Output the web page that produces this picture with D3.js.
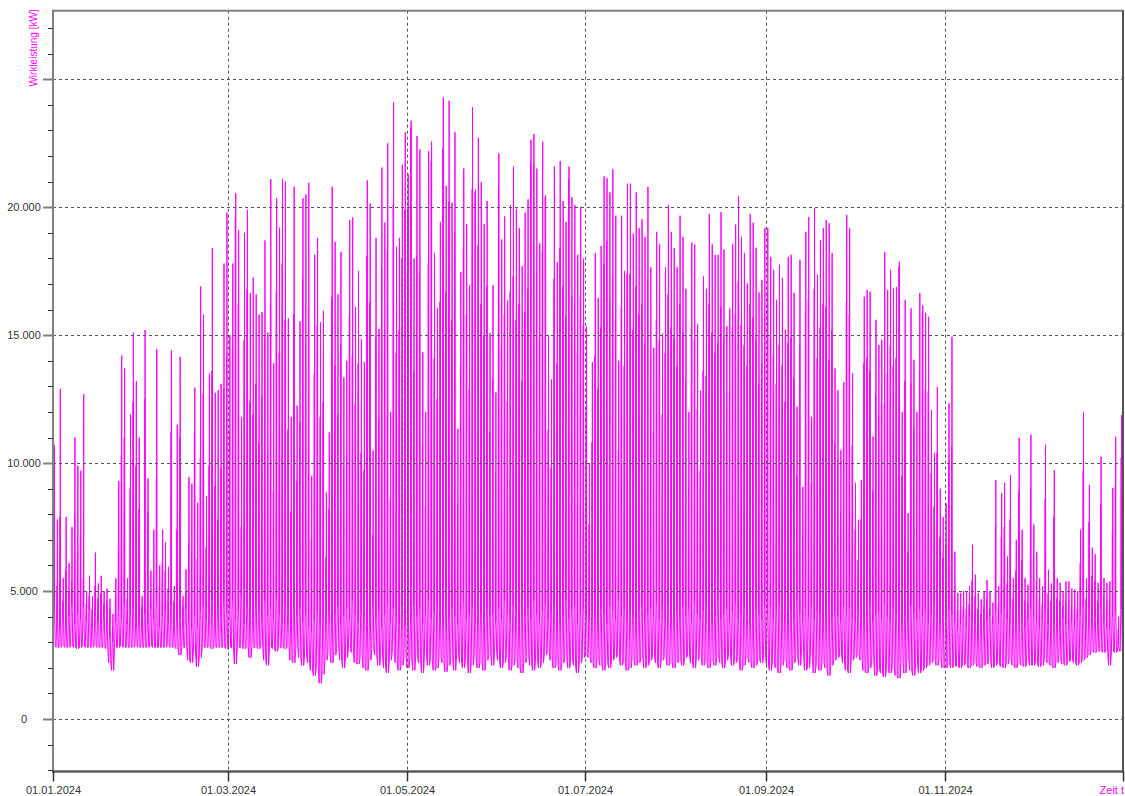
<!DOCTYPE html>
<html><head><meta charset="utf-8">
<script src="https://cdn.jsdelivr.net/npm/d3@7/dist/d3.min.js"></script>
<style>body{margin:0;background:#fff}svg{display:block}</style>
</head><body><svg id="c" width="1125" height="796"></svg>
<script>
// ---- data (kW), one value per day of 2024, read/ ----
const startDate = "2024-01-01";
const endDate = "2025-01-01";
// daily maximum
const peaks = [
10700,7800,12900,5500,7900,6100,7500,11000,9900,9700,12700,5000,5600,4800,6500,5300,5600,5000,5100,4700,4100,5500,9300,14200,13700,5500,11900,15100,13200,11000,4800,
15200,9400,5800,7400,14450,6000,7400,6900,5950,14400,5200,11500,14150,4800,5850,9450,9200,12950,8450,16900,15800,8700,13500,18400,12750,12850,13100,17800,19800,
15000,17800,20550,19100,11800,19000,19900,16650,17250,16600,15800,15900,18700,15100,21100,13900,20350,19200,21100,21000,15650,11800,20800,12250,15550,20350,20500,20950,9500,18150,18800,
15500,15950,8850,11200,20800,18650,16600,18250,13350,14000,19500,19600,16100,17500,14850,13950,21050,20150,10500,18800,15250,21550,19400,22500,12000,24100,18450,18800,21660,22930,
21290,23380,18000,22780,22260,14330,12000,22190,22560,18220,16050,19420,24280,20840,24160,20170,22930,11340,17470,21510,19340,16950,23910,20690,22710,20990,19340,20240,15080,16950,12760,
22110,18740,19640,16350,20090,21590,19940,19190,17700,19790,20310,22640,22860,21510,18590,22560,20460,15000,13270,21590,17850,21810,20240,19420,21590,20390,20090,18140,20020,17990,
15350,10000,13950,18210,16460,18490,21210,21140,20580,21480,19670,14000,19670,17510,20920,20920,18970,20580,19180,19530,18840,20790,17650,14510,19040,18550,15060,17650,20090,19040,18410,
17650,19670,18840,16810,12000,18620,18550,15420,12830,17300,16810,19740,18550,18140,18140,19810,18350,15350,16040,18550,19320,20440,18840,18210,17020,19740,19390,18420,16670,17160,19180,
19190,18060,17550,16380,17750,17240,15210,18060,18140,16650,12200,17950,9070,19040,19620,11810,19970,17360,18720,19190,19500,19370,18210,13700,12850,10500,13160,19700,19190,13520,
9230,7790,9340,16500,16770,16700,11040,15600,14620,14820,18250,16770,17550,16850,16880,17870,12000,16380,8050,16050,14040,12000,16650,16170,15870,15720,12080,10390,12970,9000,7900,
8430,12340,14940,6540,4930,4930,5000,5000,5200,6810,5640,4930,4680,5000,5440,5000,4550,9340,5190,8830,9230,6350,9530,5500,7000,10990,7400,5500,5250,11110,
7600,6540,5500,5190,10720,5830,5300,9730,5500,5320,5000,5380,5380,5100,5060,5000,7400,12000,5500,9150,6700,6440,5320,10250,5510,5320,5380,9030,11030,4000,11870
];
// secondary spike of the day
const seconds = [
9800,5200,7900,4600,5800,5000,5400,8000,6500,7200,5500,4500,4800,4300,5200,4700,4900,4500,4600,4300,3600,4800,6800,10300,11000,4700,9000,12400,9900,8200,4400,
12500,8100,4900,5600,9400,5200,6100,5800,5100,11200,4600,7400,11000,4400,5000,6900,6500,11200,6300,10200,12700,6700,9900,13600,9100,7800,9800,12900,14200,
11200,14500,19600,16200,7500,14800,16800,12400,11900,13100,10800,12600,14900,10500,16200,8900,16700,14300,17800,15600,11300,8100,15800,9300,11600,17200,14700,16100,7000,13500,15400,
11800,12400,6300,8200,16500,13800,11900,14600,9800,10300,15700,14200,12300,13900,10400,9700,18100,16300,7200,14900,11700,17600,15100,18300,8600,20100,14300,15200,18000,19900,
19900,23100,13600,18100,17400,10700,8300,17800,21800,14100,12500,16300,22300,16700,20200,15600,19000,8400,13900,18400,15800,12900,20700,20600,18500,16200,15000,16900,11200,13300,9600,
20800,14600,15800,12400,16700,17300,15600,16200,13200,15900,16800,21700,21700,17400,14800,18300,20400,11300,9800,17200,13900,18400,16900,15700,21100,16500,16200,14300,16500,15400,
12100,7600,10800,14200,12900,15300,17800,18700,16400,17300,15600,10500,16100,13800,17400,17400,15200,16900,15800,16200,14700,17200,14100,11200,15600,14800,11900,14300,16600,15300,14900,
13800,16200,15100,13200,9100,15300,14800,12100,9700,13600,13400,16200,15100,14300,14700,16100,14900,12200,12800,15300,15800,17100,15400,14600,13800,16200,15700,14800,13100,13900,15800,
16700,14900,14200,13100,14600,13800,12400,14700,14900,13300,9500,14600,7200,15900,16400,9200,16800,14100,15300,16200,16100,14040,15200,10800,10100,8100,10600,16300,15800,10700,
7400,6200,7800,13900,14100,13600,8900,12700,11900,12300,12340,13500,14600,13800,14100,17670,9500,13200,6500,13100,11400,9300,13600,15910,12900,12800,9600,8300,10400,7100,6300,
6800,10100,10650,5200,4200,4300,4400,4300,4500,5400,4800,4300,4100,4400,4700,4300,4000,7600,4500,7100,7500,5300,7800,4700,5800,8900,6200,4600,4500,9000,
6300,5400,4700,4500,8600,4900,4600,7900,4700,4600,4400,4600,4700,4400,4400,4300,6100,9700,4700,7700,5600,5400,4600,8400,4800,4600,4700,7300,9100,3500,10210
];
// typical level outside the spikes
const mids = [
4200,3800,3900,4300,3600,4000,4500,3700,4100,3900,4400,3800,4300,3600,4000,4200,3700,4100,3500,3200,3000,3800,4200,3900,4500,3700,4100,4300,3800,4000,3600,
4100,3700,4300,3900,4500,3600,4000,4200,3800,4400,3700,4100,3900,3600,4300,3800,3500,4000,3600,4200,4400,3900,4100,4600,3800,4300,4000,4500,4200,
4300,4600,3900,4200,4800,3700,4400,4100,3900,4500,4200,3800,4600,4000,4300,3900,4700,4100,3800,4400,4200,3700,4500,4000,4300,3800,4100,3600,3400,3900,4200,
3600,3900,4200,4500,3800,4100,4400,3700,4000,4300,3900,4600,4100,3800,4200,4500,3700,4000,4400,3900,4200,3600,4100,4500,3800,4300,4000,3700,4400,4100,
4200,3800,4500,4000,4300,3700,4100,4600,3900,4200,4400,3800,4100,4500,3900,4300,4000,3700,4200,4600,3900,4100,4400,3800,4200,4500,3900,4300,4000,4100,3800,
4300,3900,4600,4100,3800,4400,4200,3700,4500,4000,4300,3900,4600,4100,3800,4200,4500,3900,4100,4400,3800,4300,4000,4600,3900,4200,4400,3700,4100,4300,
4000,3800,4200,4500,3900,4300,4100,3700,4400,4200,3900,4600,4000,4300,3800,4100,4500,3900,4200,4400,3800,4100,4300,4000,4500,3900,4200,3800,4400,4100,4300,
4200,3900,4400,4000,4300,3800,4500,4100,3900,4200,4400,3800,4300,4000,4600,3900,4100,4300,3800,4200,4500,3900,4100,4400,4000,4200,3800,4300,4100,3900,4400,
4100,4400,3900,4200,4500,3800,4300,4000,4200,3900,4600,4100,3800,4300,4000,4400,3900,4200,4100,3800,4300,4500,3900,4200,4000,3800,4400,4100,4300,3900,
3800,4200,3900,4300,4000,4400,3800,4100,4200,3900,4500,4000,3800,4300,4100,3900,4200,4000,3800,4400,4100,3900,4300,4000,4200,3800,4100,4400,3900,4200,4000,
3900,4300,4100,3800,3500,3700,3900,3600,4000,3800,3700,3500,3900,3600,3800,4000,3700,4200,3800,4100,4300,3900,4400,3700,4000,4200,3800,3600,3900,4300,
4000,3800,3600,3900,4200,3700,3500,4100,3800,3600,3900,3700,3500,3800,3600,3900,4100,4400,3800,4200,4000,3900,3700,4300,3800,3600,3500,4000,4200,2900,4300
];
// daily minimum
const lows = [
2850,2800,2800,2850,2800,2800,2850,2800,2750,2800,2850,2800,2800,2800,2850,2800,2800,2800,2750,2200,1900,2800,2800,2850,2800,2800,2800,2800,2850,2800,2800,
2800,2800,2850,2800,2800,2800,2800,2800,2850,2800,2800,2750,2500,2800,2800,2300,2200,2600,2050,2400,2800,2800,2800,2750,2800,2800,2800,2800,2750,
2800,2780,2150,2800,2780,2750,2800,2400,2780,2800,2750,2800,2300,2100,2800,2750,2650,2780,2800,2750,2800,2300,2200,2750,2400,2100,2500,2200,1900,1700,2000,
1400,1750,2300,2600,2200,2500,2750,2300,2000,2400,2750,2600,2200,2150,2400,2000,1900,2300,2700,2500,2100,2400,2000,1800,2300,2600,2200,1900,2100,2400,
2000,2300,1900,2400,2200,1800,2500,2100,2300,1900,2000,2400,2200,1850,2100,2300,1900,2500,2200,2000,2300,1800,2100,2400,2000,2200,1900,2300,2500,2100,2600,
2300,2000,2200,2400,1900,2100,2300,2000,1800,2200,2400,2100,1900,2300,2000,2200,2500,2600,2300,2000,2100,1900,2200,2400,2000,2300,2100,1800,2200,2400,
2500,2400,2200,2000,2300,2100,1900,2200,2000,2300,2400,2500,2100,2200,1900,2000,2300,2100,2200,2400,2000,2100,2300,2500,2200,2000,2300,2400,2100,2200,2000,
2200,2300,2100,2400,2500,2200,2000,2300,2400,2100,2200,2000,2300,2100,2400,2200,2000,2300,2500,2100,2200,2300,1900,2100,2400,2200,2000,2100,2300,2200,2400,
2100,1900,2200,2000,1800,2100,2300,2000,1900,2200,2400,2100,2600,1900,2000,2400,1800,2100,1900,2200,2000,1700,2100,2300,2400,2500,2200,1900,1800,2300,
2400,2500,2300,1900,1800,2000,2300,1700,1900,1800,1650,1900,1800,2000,1700,1600,2200,1800,2300,1900,1700,2100,1800,1900,2000,2100,2200,2300,2100,2300,2000,
2000,2100,2000,2100,2050,2000,2100,2150,2000,2100,2200,2050,2000,2100,2150,2300,2000,2100,2200,2050,2000,2150,2300,2100,2000,2200,2100,2050,2300,2100,
2100,2200,2050,2100,2300,2200,2100,2000,2200,2300,2150,2100,2250,2300,2200,2100,2200,2300,2400,2500,2650,2600,2650,2650,2600,2650,2100,2650,2600,2650,2650
];
const yMajorTicks = [0, 5000, 10000, 15000, 20000, 25000];
const yTickLabels = {0: "0", 5000: "5.000", 10000: "10.000", 15000: "15.000", 20000: "20.000"};
const xTickDates = ["2024-01-01","2024-03-01","2024-05-01","2024-07-01","2024-09-01","2024-11-01","2025-01-01"];
const yAxisTitle = "Wirkleistung [kW]";
const xAxisTitle = "Zeit t";

// ---- layout ----
const L = 53, R = 1123, T = 10.7, B = 771.5;
const svg = d3.select("#c");
const parse = d3.utcParse("%Y-%m-%d");
const x = d3.scaleUtc().domain([parse(startDate), parse(endDate)]).range([L, R]);
const y = d3.scaleLinear().domain([-2050, 27680]).range([B, T]);

// build time series: each day a sequence of (hour, value)
const hours = [1, 6, 9, 10, 12, 13.5, 18];
const pts = [];
const t0 = parse(startDate).getTime();
for (let i = 0; i < peaks.length; i++) {
  const vals = [lows[i], mids[i], seconds[i], mids[i], peaks[i], mids[i], lows[i]];
  hours.forEach((h, k) => pts.push([new Date(t0 + (i * 24 + h) * 3600e3), vals[k]]));
}

svg.append("defs").append("clipPath").attr("id", "clip")
  .append("rect").attr("x", L).attr("y", T).attr("width", R - L).attr("height", B - T);

const line = d3.line().x(d => x(d[0])).y(d => y(d[1]));
svg.append("path").datum(pts)
  .attr("clip-path", "url(#clip)")
  .attr("d", line).attr("fill", "none").attr("stroke", "#ff00ff").attr("stroke-width", 1);

// gridlines (drawn above data)
const grid = svg.append("g").attr("stroke", "#555").attr("stroke-width", 1).attr("stroke-dasharray", "3,3");
yMajorTicks.forEach(v => grid.append("line").attr("x1", L).attr("x2", R).attr("y1", Math.round(y(v)) + 0.5).attr("y2", Math.round(y(v)) + 0.5));
xTickDates.slice(1, -1).forEach(s => grid.append("line").attr("y1", T).attr("y2", B).attr("x1", Math.round(x(parse(s))) + 0.5).attr("x2", Math.round(x(parse(s))) + 0.5));

// frame
svg.append("rect").attr("x", L).attr("y", T).attr("width", R - L).attr("height", B - T)
  .attr("fill", "none").attr("stroke", "#808080").attr("stroke-width", 2);
svg.append("line").attr("x1", L - 1).attr("x2", R + 1).attr("y1", B).attr("y2", B).attr("stroke", "#555").attr("stroke-width", 2);
svg.append("line").attr("x1", R).attr("x2", R).attr("y1", T).attr("y2", B).attr("stroke", "#444").attr("stroke-width", 1.5);

// y ticks
const yAxis = svg.append("g");
d3.range(-2000, 27001, 1000).forEach(v => {
  const yy = Math.round(y(v)) + 0.5;
  const major = v % 5000 === 0;
  yAxis.append("line").attr("x1", major ? L - 10 : L - 5).attr("x2", L).attr("y1", yy).attr("y2", yy)
    .attr("stroke", major ? "#808080" : "#333").attr("stroke-width", major ? 2 : 1);
});
Object.keys(yTickLabels).forEach(k => {
  yAxis.append("text").attr("x", 24).attr("y", y(+k) + 4).attr("text-anchor", "middle")
    .attr("font-family", "Liberation Sans, Arial, sans-serif").attr("font-size", 11).attr("fill", "#333")
    .text(yTickLabels[k]);
});

// x ticks
const fmt = d3.utcFormat("%d.%m.%Y");
xTickDates.forEach((s, i) => {
  const xx = Math.round(x(parse(s))) + 0.5;
  svg.append("line").attr("x1", xx).attr("x2", xx).attr("y1", B).attr("y2", B + 10).attr("stroke", "#333").attr("stroke-width", 1.5);
  if (i < xTickDates.length - 1)
    svg.append("text").attr("x", xx).attr("y", 794).attr("text-anchor", "middle")
      .attr("font-family", "Liberation Sans, Arial, sans-serif").attr("font-size", 11).attr("fill", "#333")
      .text(fmt(parse(s)));
});

// axis titles
svg.append("text").attr("x", 1124).attr("y", 794).attr("text-anchor", "end")
  .attr("font-family", "Liberation Sans, Arial, sans-serif").attr("font-size", 11).attr("fill", "#ff00ff").text(xAxisTitle);
svg.append("text").attr("transform", "translate(37,48) rotate(-90)").attr("text-anchor", "middle")
  .attr("font-family", "Liberation Sans, Arial, sans-serif").attr("font-size", 10).attr("fill", "#ff00ff").text(yAxisTitle);
</script></body></html>
